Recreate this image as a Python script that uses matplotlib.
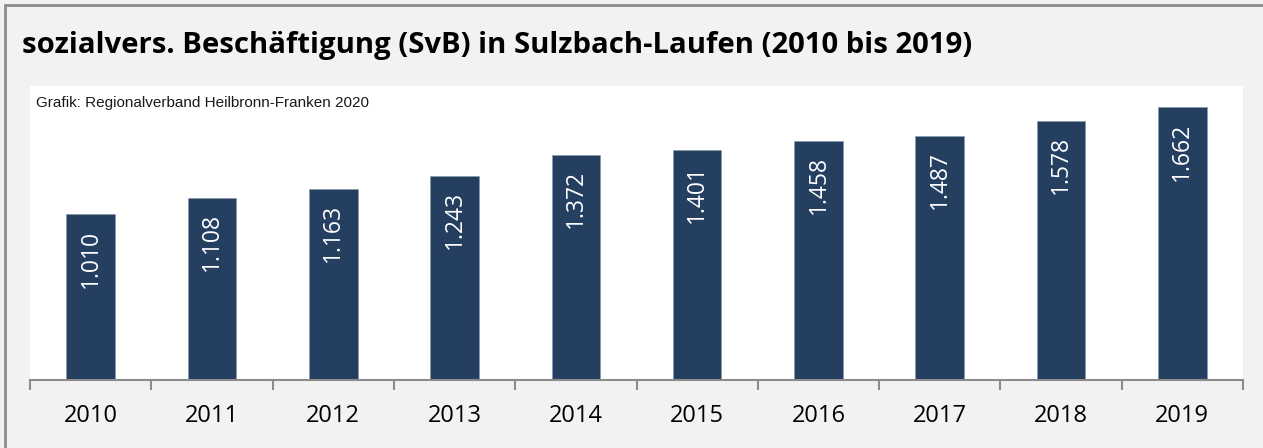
import numpy as np
import matplotlib
matplotlib.use("Agg")
import matplotlib.pyplot as plt
from matplotlib.patches import Rectangle

# SvB in Sulzbach-Laufen
years = ["2010", "2011", "2012", "2013", "2014", "2015", "2016", "2017", "2018", "2019"]
values = [1010, 1108, 1163, 1243, 1372, 1401, 1458, 1487, 1578, 1662]
labels = ["1.010", "1.108", "1.163", "1.243", "1.372", "1.401", "1.458", "1.487", "1.578", "1.662"]

W, H = 1263, 448
fig = plt.figure(figsize=(W / 100, H / 100), dpi=100)
fig.patch.set_facecolor("#f2f2f2")

# outer frame (only left/top visible in the original crop)
fig.add_artist(Rectangle((5 / W, -0.01), 1.1, 1 - 5 / H + 0.01, transform=fig.transFigure,
                         fill=False, edgecolor="#8c8c8c", linewidth=2))

ax = fig.add_axes([30 / W, 1 - 380 / H, (1243 - 30) / W, (380 - 86) / H])
ax.set_facecolor("white")

x = np.arange(len(years))
bars = ax.bar(x, values, width=0.4, color="#243f60", edgecolor="#8497b0", linewidth=0.4)

for xi, v, lab in zip(x, values, labels):
    ax.annotate(lab, (xi, v), xytext=(0, -11), textcoords="offset points",
                rotation=90, ha="center", va="top", color="white",
                fontsize=16.5, family="Open Sans")

ax.set_xlim(-0.5, len(years) - 0.5)
ax.set_ylim(0, 1790)
ax.set_yticks([])
for s in ["top", "right", "left"]:
    ax.spines[s].set_visible(False)
ax.spines["bottom"].set_color("#8c8c8c")
ax.spines["bottom"].set_linewidth(1.5)

ax.set_xticks(np.arange(-0.5, len(years), 1.0))
ax.set_xticklabels([])
ax.set_xticks(x, minor=True)
ax.set_xticklabels(years, minor=True, fontsize=17, family="Open Sans")
ax.tick_params(axis="x", which="major", length=7, width=1.5, color="#8c8c8c")
ax.tick_params(axis="x", which="minor", length=0, pad=17)

fig.text(22 / W, 1 - 45 / H, "sozialvers. Beschäftigung (SvB) in Sulzbach-Laufen (2010 bis 2019)",
         fontsize=21.1, fontweight="bold", family="Open Sans", va="center", ha="left")
ax.text(6 / (1243 - 30), 1 - 17 / (380 - 86), "Grafik: Regionalverband Heilbronn-Franken 2020",
        transform=ax.transAxes, fontsize=11, family="Liberation Sans", va="center", ha="left",
        color="#1a1a1a")

fig.savefig("out.png", dpi=100, facecolor=fig.get_facecolor())
